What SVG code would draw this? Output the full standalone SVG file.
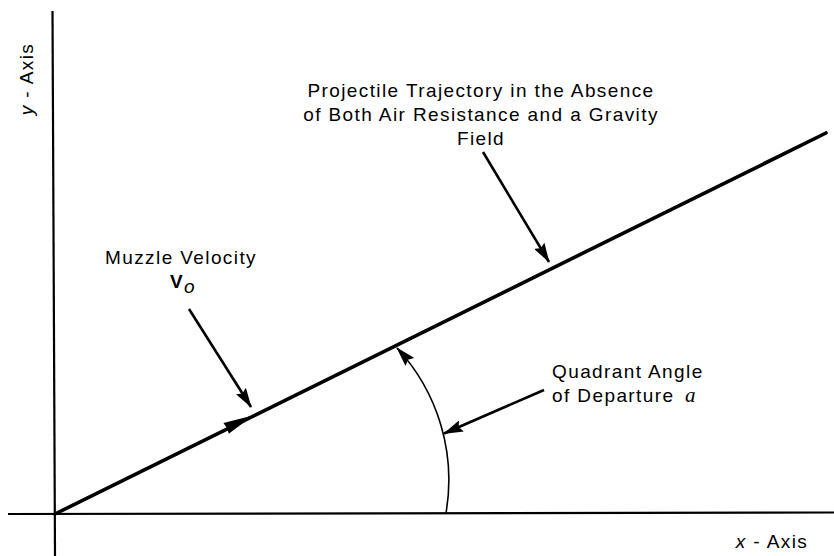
<svg xmlns="http://www.w3.org/2000/svg" width="834" height="556" viewBox="0 0 834 556">
  <style>
    .lbl { font-family: "Liberation Sans", Arial, Helvetica, sans-serif; font-size: 19px; letter-spacing: 1.4px; fill: #000; }
    .mid { text-anchor: middle; }
    .ax { stroke: #000; stroke-width: 2.2; fill: none; }
    .traj { stroke: #000; stroke-width: 3.6; fill: none; stroke-linecap: round; }
    .ptr { stroke: #000; stroke-width: 2.6; fill: none; }
    .arc { stroke: #000; stroke-width: 1.6; fill: none; }
    .it { font-style: italic; }
  </style>
  <defs>
    <marker id="ah" markerUnits="userSpaceOnUse" viewBox="0 0 20 12" markerWidth="20" markerHeight="12" refX="19" refY="6" orient="auto">
      <path d="M0,0 L20,6 L0,12 L3,6 z" fill="#000"/>
    </marker>
  </defs>
  <rect width="834" height="556" fill="#fff"/>

  <g id="axes">
    <line class="ax" x1="52.5" y1="11" x2="55" y2="556"/>
    <line class="ax" x1="8" y1="514" x2="834" y2="512.5" stroke-width="2.6"/>
  </g>

  <g id="connectors">
    <line id="trajectory" class="traj" x1="55" y1="514" x2="826" y2="133"/>
    <polygon id="velocity-arrowhead" points="253,415.5 223.4,422.9 227,428 228.8,433.7" fill="#000"/>
    <line id="ptr-velocity" class="ptr" x1="189" y1="309" x2="251" y2="407" marker-end="url(#ah)"/>
    <line id="ptr-trajectory" class="ptr" x1="483" y1="152" x2="549" y2="262" marker-end="url(#ah)"/>
    <path id="angle-arc" class="arc" d="M446,513 A194,194 0 0 0 397,348" marker-end="url(#ah)"/>
    <line id="ptr-angle" class="ptr" x1="544" y1="390" x2="444" y2="433.5" stroke-width="3" marker-end="url(#ah)"/>
  </g>

  <g id="y-axis-label">
    <text class="lbl mid" transform="translate(33,79) rotate(-90)"><tspan class="it">y</tspan> - Axis</text>
  </g>
  <g id="x-axis-label">
    <text class="lbl mid" x="772" y="548"><tspan class="it">x</tspan> - Axis</text>
  </g>
  <g id="trajectory-label">
    <text class="lbl mid" x="481" y="97">Projectile Trajectory in the Absence</text>
    <text class="lbl mid" x="481" y="121">of Both Air Resistance and a Gravity</text>
    <text class="lbl mid" x="481" y="145">Field</text>
  </g>
  <g id="velocity-label">
    <text class="lbl mid" x="181" y="264">Muzzle Velocity</text>
    <text class="lbl" x="170" y="288"><tspan font-weight="bold">V</tspan><tspan class="it" dy="5" dx="0">o</tspan></text>
  </g>
  <g id="angle-label">
    <text class="lbl" x="552" y="378">Quadrant Angle</text>
    <text class="lbl" x="552" y="402">of Departure <tspan font-family="'Liberation Serif', 'Times New Roman', serif" font-style="italic" font-size="21" dx="4">a</tspan></text>
  </g>
</svg>
